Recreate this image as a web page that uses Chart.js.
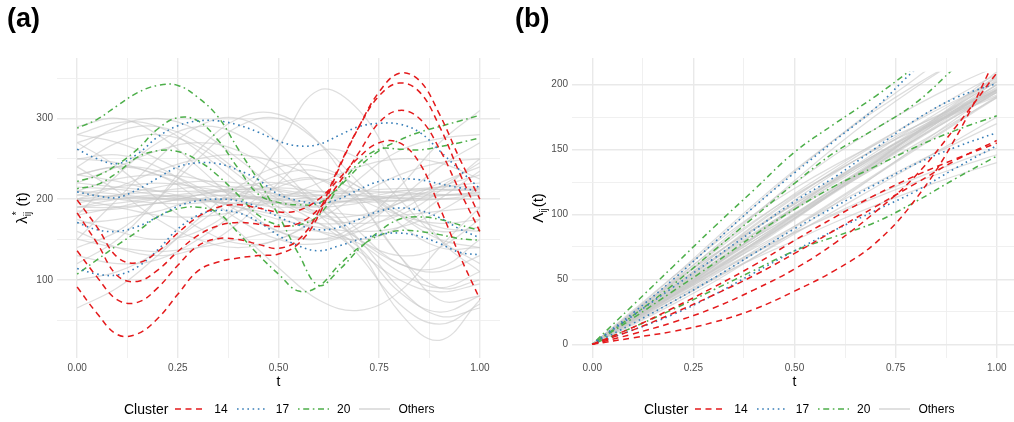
<!DOCTYPE html>
<html>
<head>
<meta charset="utf-8">
<script src="https://cdn.jsdelivr.net/npm/chart.js@4.4.1/dist/chart.umd.min.js"></script>
<style>
  body { margin: 0; background: #fff; font-family: "Liberation Sans", Arial, sans-serif; }
  #wrap { position: relative; width: 1014px; height: 422px; overflow: hidden; }
  .panel { position: absolute; top: 0; height: 422px; }
  .tag { position: absolute; top: 5px; font-size: 27px; font-weight: bold; line-height: 27px; color: #000; }
  .legend { position: absolute; top: 401px; height: 16px; display: flex; align-items: center; color: #000; font-size: 12px; }
  .legend .lt { font-size: 14px; }
  .legend svg { display: block; }
</style>
</head>
<body>
<div id="wrap">
  <div class="panel" style="left:0;width:507px"><canvas id="chartA" width="507" height="422"></canvas></div>
  <div class="panel" style="left:507px;width:510px"><canvas id="chartB" width="510" height="422"></canvas></div>
  <div class="tag" style="left:7px">(a)</div>
  <div class="tag" style="left:515px">(b)</div>
  <div class="legend" id="legA" style="left:124px"></div>
  <div class="legend" id="legB" style="left:644px"></div>
</div>
<script>
// grille des temps
const T20 = [0,0.05,0.1,0.15,0.2,0.25,0.3,0.35,0.4,0.45,0.5,0.55,0.6,0.65,0.7,0.75,0.8,0.85,0.9,0.95,1];
const T10 = [0,0.1,0.2,0.3,0.4,0.5,0.6,0.7,0.8,0.9,1];

// (a) intensités, cluster 14 (rouge)
const redA = [
  [199,165,128,121,135,158,178,190,193,189,184,186,200,225,252,270,270,245,190,130,76],
  [183,145,105,98,112,135,155,167,171,169,166,170,188,220,258,295,310,300,262,210,160],
  [136,103,75,72,90,118,142,151,150,144,139,150,185,240,290,328,344,333,290,232,178],
  [91,58,32,33,52,82,111,122,127,130,132,145,180,238,290,333,356,347,305,250,200]
];
// cluster 17 (bleu)
const blueA = [
  [262,250,244,256,277,291,297,297,292,283,272,266,268,279,290,294,293,283,260,236,213],
  [209,204,202,212,226,240,245,244,236,224,206,198,195,200,212,222,225,224,219,214,210],
  [171,162,160,166,178,191,198,200,198,190,178,168,162,165,175,185,189,186,177,163,152],
  [114,107,106,116,137,163,180,186,183,172,155,142,136,142,150,156,158,154,145,134,131]
];
// cluster 20 (vert)
const greenA = [
  [288,299,316,332,341,341,326,302,262,223,180,132,93,112,138,160,175,178,175,168,161],
  [222,229,243,262,287,301,297,273,238,206,196,193,195,215,240,260,273,283,290,297,304],
  [213,218,233,252,260,259,248,229,205,180,168,168,180,215,245,262,262,261,265,270,276],
  [107,125,143,160,178,188,190,183,158,131,107,86,92,118,140,155,161,160,156,151,149]
];
// autres individus (gris), pas de 0.1
const greyA = [
  [205,203,200,198,200,203,205,204,202,205,208],
  [210,206,201,199,201,205,209,210,208,206,205],
  [198,200,203,205,204,200,196,198,204,210,212],
  [215,212,205,198,195,198,204,210,213,212,210],
  [190,195,202,208,210,206,200,196,198,204,208],
  [230,222,210,200,194,195,200,206,210,212,213],
  [185,188,195,205,212,214,210,205,201,200,200],
  [250,245,230,212,198,190,192,200,210,215,215],
  [270,285,290,270,235,200,180,180,195,215,230],
  [280,295,290,260,220,185,170,175,195,220,240],
  [260,290,300,285,250,210,180,170,180,210,250],
  [240,270,280,265,230,190,160,150,165,200,235],
  [180,230,270,290,280,240,190,150,130,140,175],
  [150,200,250,290,300,270,215,160,120,115,150],
  [140,160,200,250,290,300,270,220,170,140,140],
  [120,150,200,260,300,305,270,200,130,90,100],
  [220,240,260,270,260,230,190,150,120,110,130],
  [200,215,235,250,255,245,225,200,180,170,175],
  [175,160,150,160,195,265,335,310,230,150,110],
  [160,140,130,140,170,220,260,250,200,150,120],
  [130,120,125,150,185,215,225,210,180,160,165],
  [100,110,135,170,205,230,235,215,185,165,160],
  [65,90,130,175,215,240,240,215,180,150,140],
  [240,210,175,150,140,150,175,205,230,245,250],
  [270,240,200,165,145,150,180,225,260,275,280],
  [250,255,240,210,175,150,145,165,200,240,270],
  [290,300,280,240,195,160,150,170,215,270,310],
  [230,240,235,215,185,160,150,160,185,215,245],
  [200,190,180,178,185,200,220,240,250,245,225],
  [210,225,230,225,210,195,185,180,180,185,190],
  [190,190,195,205,215,220,200,140,60,25,75],
  [200,205,210,215,215,205,180,130,70,45,70],
  [220,215,210,210,212,210,195,150,90,55,65],
  [170,175,185,200,205,195,170,135,100,85,95],
  [150,140,135,140,150,160,160,145,110,90,110],
  [230,240,230,200,160,115,75,62,85,140,190],
  [190,200,205,200,190,175,165,160,165,185,215],
  [205,215,220,215,205,195,190,195,205,215,220],
  [280,270,250,225,205,195,195,200,205,205,205],
  [195,205,215,222,220,212,205,200,198,200,205],
  [180,190,200,200,190,180,170,140,85,60,80],
  [210,200,195,195,205,220,225,195,130,75,80]
];

// (b) intensités cumulées, pas de 0.1
const redB = [
  [0,5,10,17,27,41,57,78,112,160,222],
  [0,8,17,28,42,58,78,102,130,168,209],
  [0,11,24,38,53,70,88,106,124,142,157],
  [0,13,28,44,61,80,98,115,130,143,155]
];
const blueB = [
  [0,24,50,78,106,132,157,182,212,236,258],
  [0,22,44,66,88,110,129,151,173,190,201],
  [0,16,33,51,70,89,106,123,139,152,163],
  [0,11,23,38,55,72,88,103,118,136,153]
];
const greenB = [
  [0,30,60,90,119,148,170,191,214,236,258],
  [0,22,46,72,98,124,148,166,186,214,240],
  [0,20,41,62,84,104,122,137,152,165,176],
  [0,13,27,42,57,72,83,94,110,128,145]
];
const greyB = [
  [0,20,40,60,80,100,120,140,160,180,200],
  [0,21,42,62,82,101,120,139,158,177,196],
  [0,19,38,58,78,99,120,141,162,183,204],
  [0,22,44,65,85,104,122,140,158,176,194],
  [0,18,36,55,75,96,118,140,162,184,206],
  [0,24,47,69,89,108,126,144,162,180,198],
  [0,20,41,63,85,106,126,145,163,180,196],
  [0,21,40,58,77,97,118,140,163,186,210],
  [0,26,52,77,100,120,138,154,168,182,196],
  [0,23,48,74,100,124,146,166,184,200,214],
  [0,25,52,80,108,134,158,180,200,218,235],
  [0,24,50,78,106,133,158,182,205,228,250],
  [0,20,39,57,74,91,108,124,140,155,170],
  [0,17,33,50,67,85,103,121,139,157,175],
  [0,19,37,54,70,86,101,115,128,140,151],
  [0,20,38,55,71,86,100,113,125,136,146],
  [0,18,35,51,66,80,94,107,119,130,140],
  [0,16,33,51,70,90,110,130,150,170,190],
  [0,15,31,48,67,87,108,130,152,174,196],
  [0,19,39,60,82,104,125,145,164,181,196],
  [0,21,43,66,89,111,132,151,168,183,197],
  [0,20,40,61,83,105,127,148,168,187,205],
  [0,22,45,68,91,113,134,154,173,191,208],
  [0,23,45,66,86,105,124,143,162,181,200],
  [0,18,37,57,78,100,121,142,161,179,195],
  [0,20,42,65,88,109,128,146,163,179,194],
  [0,24,49,73,95,115,133,150,166,181,195],
  [0,19,38,57,77,97,117,137,157,176,194],
  [0,21,41,61,80,99,118,138,158,179,200],
  [0,22,43,63,82,100,118,136,154,172,190],
  [0,20,40,59,78,98,118,138,159,181,203],
  [0,18,38,60,83,106,127,146,163,178,191],
  [0,25,48,69,89,108,127,146,165,184,202],
  [0,21,44,68,92,114,133,150,165,179,192],
  [0,19,37,56,76,97,119,141,163,185,207],
  [0,23,47,71,94,116,136,155,172,188,202],
  [0,22,46,72,99,126,152,176,198,218,236],
  [0,17,35,53,72,91,111,131,151,171,191]
];

// ticks
const xTicks = [0,0.125,0.25,0.375,0.5,0.625,0.75,0.875,1];
const yTicksA = [50,100,150,200,250,300,350];
const yTicksB = [0,25,50,75,100,125,150,175,200];

const COL_RED = '#E41A1C', COL_BLUE = '#377EB8', COL_GREEN = '#4DAF4A';
const COL_GREY = 'rgba(200,200,200,0.6)';
const DASH = { red: [6, 4.5], blue: [1.6, 3.6], green: [1.6, 3.6, 6, 3.6] };
const FONT = '"Liberation Sans", Arial, sans-serif';

function pts(ts, vs) { return vs.map((v, i) => ({ x: ts[i], y: v })); }

function buildSets(red, blue, green, grey, tc, tg) {
  const sets = [];
  red.forEach(v => sets.push({ data: pts(tc, v), borderColor: COL_RED, borderWidth: 1.5, borderDash: DASH.red }));
  blue.forEach(v => sets.push({ data: pts(tc, v), borderColor: COL_BLUE, borderWidth: 1.6, borderDash: DASH.blue }));
  green.forEach(v => sets.push({ data: pts(tc, v), borderColor: COL_GREEN, borderWidth: 1.5, borderDash: DASH.green }));
  grey.forEach(v => sets.push({ data: pts(tg, v), borderColor: COL_GREY, borderWidth: 1.25 }));
  return sets;
}

const isMajorX = v => Math.abs(v * 4 - Math.round(v * 4)) < 1e-9;

// titres d'axes (avec indices / exposants)
const axisTitles = {
  id: 'axisTitles',
  afterDraw(chart, args, opts) {
    const { ctx, chartArea } = chart;
    ctx.save();
    ctx.fillStyle = '#000';
    ctx.textBaseline = 'alphabetic';
    ctx.font = '14px ' + FONT;
    ctx.textAlign = 'center';
    ctx.fillText('t', chart.scales.x.getPixelForValue(0.5), chartArea.bottom + 28);

    const cy = (chartArea.top + chartArea.bottom) / 2;
    ctx.translate(opts.x, cy);
    ctx.rotate(-Math.PI / 2);
    ctx.textAlign = 'left';
    const big = '15px ' + FONT, small = '10px ' + FONT;
    ctx.font = big;
    const w1 = ctx.measureText(opts.main).width;
    const w3 = ctx.measureText(opts.tail).width;
    ctx.font = small;
    const wsub = ctx.measureText('ij').width;
    const wsup = opts.sup ? ctx.measureText(opts.sup).width : 0;
    const ws = Math.max(wsub, wsup) + 1;
    let x = -(w1 + ws + w3) / 2;
    const base = 4;
    ctx.font = big;
    ctx.fillText(opts.main, x, base);
    x += w1;
    ctx.font = small;
    ctx.fillText('ij', x, base + 4);
    if (opts.sup) ctx.fillText(opts.sup, x + 1, base - 7);
    x += ws;
    ctx.font = big;
    ctx.fillText(opts.tail, x, base);
    ctx.restore();
  }
};

// coupe les courbes au-dessus de la limite de l'axe (comme ggplot)
const yClip = {
  id: 'yClip',
  beforeDatasetsDraw(chart, args, opts) {
    if (opts.limit === undefined) return;
    const { ctx, chartArea } = chart;
    const yTop = chart.scales.y.getPixelForValue(opts.limit);
    ctx.save();
    ctx.beginPath();
    ctx.rect(chartArea.left, yTop, chartArea.right - chartArea.left, chartArea.bottom - yTop);
    ctx.clip();
  },
  afterDatasetsDraw(chart, args, opts) {
    if (opts.limit === undefined) return;
    chart.ctx.restore();
  }
};

function makePanel(id, sets, yMin, yMax, yTicks, yMajor, yWidth, padRight, titleOpts, clipLimit) {
  return new Chart(document.getElementById(id), {
    type: 'line',
    data: { datasets: sets },
    options: {
      responsive: false,
      animation: false,
      devicePixelRatio: 1,
      layout: { padding: { left: 0, right: padRight, top: 58, bottom: 34 } },
      elements: { point: { radius: 0 }, line: { tension: 0.4, fill: false, borderCapStyle: 'butt' } },
      plugins: {
        legend: { display: false },
        tooltip: { enabled: false },
        axisTitles: titleOpts,
        yClip: { limit: clipLimit }
      },
      scales: {
        x: {
          type: 'linear', min: -0.05, max: 1.05,
          afterBuildTicks: s => { s.ticks = xTicks.map(v => ({ value: v })); },
          afterFit: s => { s.height = 30; },
          border: { display: false },
          grid: {
            drawTicks: false,
            color: c => isMajorX(c.tick.value) ? '#e9e9e9' : '#eeeeee',
            lineWidth: c => isMajorX(c.tick.value) ? 1.4 : 0.9
          },
          ticks: {
            autoSkip: false, maxRotation: 0, padding: 4, color: '#4D4D4D',
            font: { family: FONT, size: 10 },
            callback: v => isMajorX(v) ? v.toFixed(2) : ''
          }
        },
        y: {
          type: 'linear', min: yMin, max: yMax,
          afterBuildTicks: s => { s.ticks = yTicks.map(v => ({ value: v })); },
          afterFit: s => { s.width = yWidth; },
          border: { display: false },
          grid: {
            drawTicks: false,
            color: c => c.tick.value % yMajor === 0 ? '#e9e9e9' : '#eeeeee',
            lineWidth: c => c.tick.value % yMajor === 0 ? 1.4 : 0.9
          },
          ticks: {
            padding: 4, color: '#4D4D4D',
            font: { family: FONT, size: 10 },
            callback: v => v % yMajor === 0 ? String(v) : ''
          }
        }
      }
    },
    plugins: [yClip, axisTitles]
  });
}

makePanel('chartA', buildSets(redA, blueA, greenA, greyA, T20, T10),
  3, 375, yTicksA, 100, 57, 7, { x: 23, main: 'λ', sup: '*', tail: ' (t)' });
makePanel('chartB', buildSets(redB, blueB, greenB, greyB, T10, T10),
  -10.5, 220.5, yTicksB, 50, 65, 0, { x: 32, main: 'Λ', sup: '', tail: '(t)' }, 210);

// légendes
function keySvg(color, dash, w) {
  return `<svg width="31" height="8"><line x1="0" y1="4" x2="31" y2="4" stroke="${color}" stroke-width="${w}"` +
    (dash ? ` stroke-dasharray="${dash.join(' ')}"` : '') + `/></svg>`;
}
function legendHtml() {
  return `<span class="lt">Cluster</span>` +
    `<span style="margin-left:7px">${keySvg(COL_RED, DASH.red, 1.6)}</span><span style="margin-left:8px">14</span>` +
    `<span style="margin-left:9px">${keySvg(COL_BLUE, DASH.blue, 1.6)}</span><span style="margin-left:8px">17</span>` +
    `<span style="margin-left:9px">${keySvg(COL_GREEN, DASH.green, 1.6)}</span><span style="margin-left:8px">20</span>` +
    `<span style="margin-left:9px">${keySvg('#d9d9d9', null, 1.6)}</span><span style="margin-left:8px">Others</span>`;
}
document.getElementById('legA').innerHTML = legendHtml();
document.getElementById('legB').innerHTML = legendHtml();
</script>
</body>
</html>
